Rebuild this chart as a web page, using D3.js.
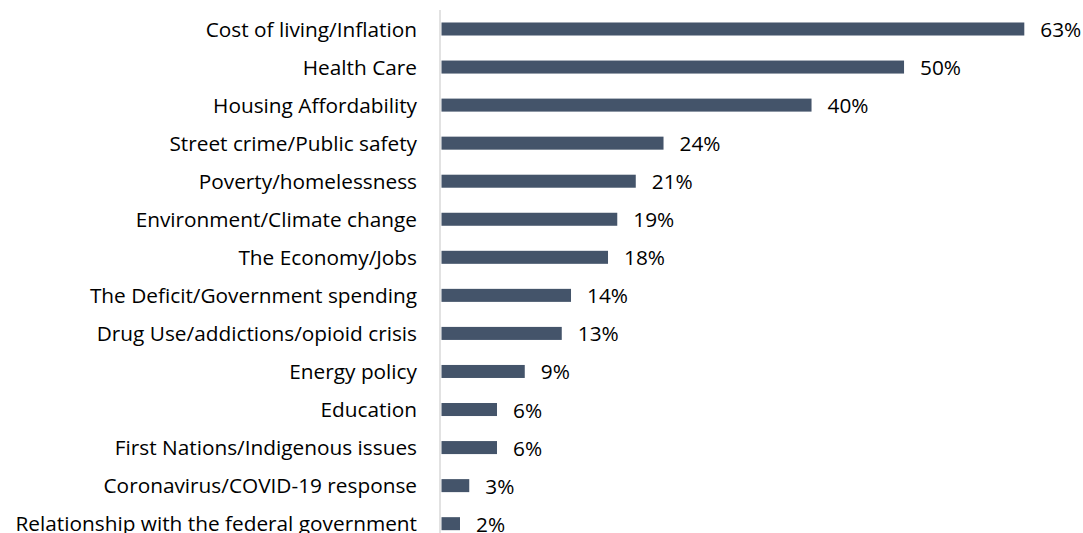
<!DOCTYPE html>
<html>
<head>
<meta charset="utf-8">
<script src="https://cdn.jsdelivr.net/npm/d3@7"></script>
<style>
  body { margin: 0; background: #fff; }
  svg text { font-family: 'Open Sans', sans-serif; fill: #000; }
</style>
</head>
<body>
<svg id="chart" width="1083" height="533"></svg>
<script>
const categories = [
  'Cost of living/Inflation',
  'Health Care',
  'Housing Affordability',
  'Street crime/Public safety',
  'Poverty/homelessness',
  'Environment/Climate change',
  'The Economy/Jobs',
  'The Deficit/Government spending',
  'Drug Use/addictions/opioid crisis',
  'Energy policy',
  'Education',
  'First Nations/Indigenous issues',
  'Coronavirus/COVID-19 response',
  'Relationship with the federal government'
]
const values = [63, 50, 40, 24, 21, 19, 18, 14, 13, 9, 6, 6, 3, 2]

const svg = d3.select('#chart')

// scales
const x = d3.scaleLinear().domain([0, 63]).range([441.5, 1024.3])
const y = d3.scaleBand()
  .domain(categories)
  .range([9.975, 542.7])
  .paddingInner(0.658)
  .paddingOuter(0.329)

// vertical axis line
svg.append('line')
  .attr('x1', 440).attr('x2', 440)
  .attr('y1', 10).attr('y2', 533)
  .attr('stroke', '#d9d9d9')
  .attr('stroke-width', 1.5)

// bars
svg.selectAll('.bar')
  .data(values)
  .enter()
  .append('rect')
  .attr('class', 'bar')
  .attr('x', x(0))
  .attr('y', (d, i) => y(categories[i]))
  .attr('width', (d) => x(d) - x(0))
  .attr('height', y.bandwidth())
  .attr('fill', '#44546a')

// category labels
svg.selectAll('.cat')
  .data(categories)
  .enter()
  .append('text')
  .attr('class', 'cat')
  .attr('x', 417)
  .attr('y', (d) => y(d) + y.bandwidth() / 2 + 7.5)
  .attr('text-anchor', 'end')
  .style('font-size', '20.8px')
  .text((d) => d)

// value labels
svg.selectAll('.val')
  .data(values)
  .enter()
  .append('text')
  .attr('class', 'val')
  .attr('x', (d) => x(d) + 16)
  .attr('y', (d, i) => y(categories[i]) + y.bandwidth() / 2 + 8)
  .style('font-size', '20.8px')
  .text((d) => d + '%')
</script>
</body>
</html>
